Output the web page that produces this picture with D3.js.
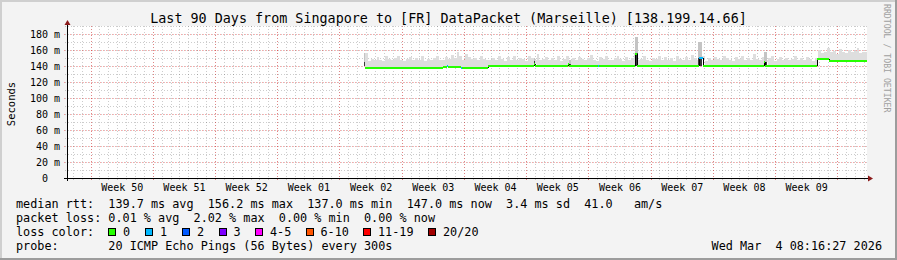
<!DOCTYPE html>
<html>
<head>
<meta charset="utf-8">
<script src="https://cdn.jsdelivr.net/npm/d3@7"></script>
<style>
  html, body { margin: 0; padding: 0; background: #fff; }
  svg { display: block; font-family: "DejaVu Sans Mono", monospace; }
  text { white-space: pre; }
</style>
</head>
<body>
<script>
// time range of the graph (last 90 days)
const startTime = new Date("2025-12-04T08:16:27Z");
const endTime = new Date("2026-03-04T08:16:27Z");

// y axis ticks (ms)
const yTicks = [0, 20, 40, 60, 80, 100, 120, 140, 160, 180];

// median rtt, as steps: start time, value in ms, lost pings
const medianStart = [
  "2026-01-06T20:00Z", "2026-01-15T15:00Z", "2026-01-16T01:00Z", "2026-01-16T04:00Z",
  "2026-01-17T16:00Z", "2026-01-17T19:00Z", "2026-01-20T17:00Z", "2026-01-25T20:00Z",
  "2026-01-25T23:00Z", "2026-01-29T16:00Z", "2026-01-29T19:00Z", "2026-02-02T03:00Z",
  "2026-02-02T06:00Z", "2026-02-06T07:00Z", "2026-02-06T10:00Z", "2026-02-13T10:00Z",
  "2026-02-13T21:00Z", "2026-02-20T19:00Z", "2026-02-20T22:00Z", "2026-02-26T17:00Z",
  "2026-02-28T01:00Z", "2026-03-04T08:16Z"
];
const medianValue = [137.2, 139.2, 139.5, 139.2, 137.0, 138.0, 139.5, 143.0, 139.5, 142.0,
  139.5, 139.5, 139.5, 155.5, 139.5, 149.5, 139.5, 145.0, 139.5, 148.4, 146.8];
const medianLoss = [0, 0, 1, 0, 1, 0, 0, 0, 0, 0, 0, 1, 0, 0, 0, 1, 0, 0, 0, 0, 0];

// smoke: highest ping per 8 hour bucket, from the first bucket on
const smokeFirst = "2026-01-06T20:00Z";
const smokeMax = [
  156, 146, 149, 147, 151, 148, 146, 152, 149, 147, 150, 153, 148, 146, 149, 151, 147, 150,
  148, 152, 146, 149, 147, 150, 153, 148, 147,
  151, 149, 154, 150, 157, 152, 148, 155, 151, 149, 150, 148, 152, 149, 147,
  148, 150, 147, 152, 149, 146, 151, 148, 153, 147, 150, 149, 146, 152, 150, 148, 155, 147,
  149, 151, 147, 150, 148, 153, 146, 149, 152, 148, 150, 147, 151, 149, 147, 150, 154, 148,
  146, 151, 149, 152, 148, 147, 150, 153, 149, 146, 151, 148, 150, 156, 147, 149, 152, 148,
  146, 150, 149, 153, 147, 151, 148, 150, 146, 152, 149, 147, 151, 148, 154, 150, 147, 149,
  152, 146, 150, 148, 151, 149, 147, 153, 150, 148, 146, 151, 149, 152, 147, 150, 148, 155,
  149, 147, 151, 148, 150, 152, 146, 149, 151, 148, 150, 147, 149, 152, 148, 150, 147, 151,
  149, 146, 150,
  160, 156, 158, 162, 157, 159, 155, 161, 158, 156, 160, 157, 159, 162, 156, 158, 157
];

// spikes of dense smoke: start, hours wide, dark top, light top (ms)
const spikeTimes = ["2026-01-06T19:00Z", "2026-01-25T20:00Z", "2026-01-29T21:00Z",
  "2026-02-06T05:00Z", "2026-02-13T08:00Z", "2026-02-20T19:00Z"];
const spikeHours = [3, 3, 3, 8, 11, 6];
const spikeDark = [145, 146, 143, 156, 149.5, 145];
const spikeTop = [156, 150, 148, 176, 170, 158];

// legend
const lossLabels = ["0", "1", "2", "3", "4-5", "6-10", "11-19", "20/20"];
const lossColors = ["#26ff00", "#00b8ff", "#0059ff", "#7e00ff", "#ff00ff", "#ff5500", "#ff0000", "#a10000"];
const lossBoxX = [108, 145, 182, 218.5, 255, 305.5, 363, 428];

const W = 897, H = 260;
const pLeft = 67, pRight = 867, pTop = 26, pBottom = 178;

const x = d3.scaleUtc().domain([startTime, endTime]).range([pLeft, pRight]);
const y = d3.scaleLinear().domain([0, 190]).range([pBottom, pTop]);

const svg = d3.select("body").append("svg")
  .attr("width", W)
  .attr("height", H);

// background and 3d frame
svg.append("rect").attr("width", W).attr("height", H).attr("fill", "#f3f3f3");
svg.append("rect").attr("x", 0).attr("y", 0).attr("width", W).attr("height", 2).attr("fill", "#cfcfcf");
svg.append("rect").attr("x", 0).attr("y", 0).attr("width", 2).attr("height", H).attr("fill", "#cfcfcf");
svg.append("rect").attr("x", 0).attr("y", H - 2).attr("width", W).attr("height", 2).attr("fill", "#9c9c9c");
svg.append("rect").attr("x", W - 2).attr("y", 0).attr("width", 2).attr("height", H).attr("fill", "#9c9c9c");

// canvas
svg.append("rect")
  .attr("x", pLeft).attr("y", pTop)
  .attr("width", pRight - pLeft).attr("height", pBottom - pTop)
  .attr("fill", "#ffffff");

// grid
const grid = svg.append("g").attr("shape-rendering", "crispEdges");
const days = d3.utcDay.range(startTime, endTime);
const sundays = d3.utcSunday.range(startTime, endTime);
grid.selectAll(".vmin").data(days).enter().append("line")
  .attr("x1", d => Math.round(x(d)) + 0.5).attr("x2", d => Math.round(x(d)) + 0.5)
  .attr("y1", pTop).attr("y2", pBottom + 2)
  .attr("stroke", "rgba(0,0,0,0.2)").attr("stroke-dasharray", "1,2");
const yMinor = d3.range(10, 200, 10);
grid.selectAll(".hmin").data(yMinor).enter().append("line")
  .attr("x1", pLeft - 2).attr("x2", pRight)
  .attr("y1", d => Math.round(y(d)) + 0.5).attr("y2", d => Math.round(y(d)) + 0.5)
  .attr("stroke", "rgba(0,0,0,0.2)").attr("stroke-dasharray", "1,2");
grid.selectAll(".vmaj").data(sundays).enter().append("line")
  .attr("x1", d => Math.round(x(d)) + 0.5).attr("x2", d => Math.round(x(d)) + 0.5)
  .attr("y1", pTop).attr("y2", pBottom + 3)
  .attr("stroke", "rgba(255,0,0,0.35)").attr("stroke-dasharray", "1,2");
grid.selectAll(".hmaj").data(yTicks.filter(d => d > 0)).enter().append("line")
  .attr("x1", pLeft - 3).attr("x2", pRight)
  .attr("y1", d => Math.round(y(d)) + 0.5).attr("y2", d => Math.round(y(d)) + 0.5)
  .attr("stroke", "rgba(255,0,0,0.35)").attr("stroke-dasharray", "1,2");

// data
const plot = svg.append("g");
svg.append("clipPath").attr("id", "clip").append("rect")
  .attr("x", pLeft).attr("y", pTop).attr("width", pRight - pLeft).attr("height", pBottom - pTop);
plot.attr("clip-path", "url(#clip)").attr("shape-rendering", "crispEdges");

const segs = medianValue.map((v, i) => ({
  t0: new Date(medianStart[i]), t1: new Date(medianStart[i + 1]), v: v, loss: medianLoss[i]
}));
function medianAt(t) {
  let v = medianValue[0];
  segs.forEach(s => { if (s.t0 <= t) v = s.v; });
  return v;
}

const t0 = new Date(smokeFirst);
const smoke = smokeMax.map((m, i) => {
  const a = d3.utcHour.offset(t0, i * 8);
  return { a: a, b: d3.utcHour.offset(a, 8), hi: m, lo: medianAt(a) };
});
plot.selectAll(".smoke").data(smoke).enter().append("rect")
  .attr("x", d => Math.round(x(d.a)))
  .attr("width", d => Math.max(1, Math.round(x(d.b)) - Math.round(x(d.a))))
  .attr("y", d => Math.round(y(d.hi)))
  .attr("height", d => Math.max(0, Math.round(y(d.lo)) - Math.round(y(d.hi))))
  .attr("fill", "#dedede");

const spikes = spikeTimes.map((s, i) => {
  const a = new Date(s);
  return { a: a, b: d3.utcHour.offset(a, spikeHours[i]), dark: spikeDark[i], hi: spikeTop[i] };
});
plot.selectAll(".spikeLight").data(spikes).enter().append("rect")
  .attr("x", d => Math.round(x(d.a)))
  .attr("width", d => Math.max(1, Math.round(x(d.b)) - Math.round(x(d.a))))
  .attr("y", d => Math.round(y(d.hi)))
  .attr("height", d => Math.round(y(d.dark)) - Math.round(y(d.hi)))
  .attr("fill", "#c4c4c4");
plot.selectAll(".spikeDark").data(spikes).enter().append("rect")
  .attr("x", d => Math.round(x(d.a)))
  .attr("width", d => Math.max(1, Math.round(x(d.b)) - Math.round(x(d.a))))
  .attr("y", d => Math.round(y(d.dark)))
  .attr("height", d => Math.round(y(139.5)) - Math.round(y(d.dark)))
  .attr("fill", "#3a3a3a");

// median line, coloured by loss
plot.selectAll(".jump").data(segs.slice(1)).enter().append("line")
  .attr("x1", d => Math.round(x(d.t0)) + 0.5).attr("x2", d => Math.round(x(d.t0)) + 0.5)
  .attr("y1", (d, i) => y(segs[i].v)).attr("y2", d => y(d.v))
  .attr("stroke", "#000").attr("stroke-width", 1);
plot.selectAll(".median").data(segs).enter().append("rect")
  .attr("x", d => Math.round(x(d.t0)))
  .attr("width", d => Math.max(1, Math.round(x(d.t1)) - Math.round(x(d.t0))))
  .attr("y", d => Math.round(y(d.v)) - 1)
  .attr("height", 2)
  .attr("fill", d => lossColors[d.loss]);

// axes
const axes = svg.append("g").attr("shape-rendering", "crispEdges");
axes.append("line").attr("x1", pLeft + 0.5).attr("x2", pLeft + 0.5).attr("y1", pTop - 2).attr("y2", pBottom + 3)
  .attr("stroke", "#000");
axes.append("line").attr("x1", pLeft - 3).attr("x2", pRight + 2).attr("y1", pBottom + 0.5).attr("y2", pBottom + 0.5)
  .attr("stroke", "#000");
svg.append("path").attr("d", `M${pLeft - 2.5},${pTop - 1} L${pLeft + 3.5},${pTop - 1} L${pLeft + 0.5},${pTop - 6} Z`)
  .attr("fill", "#8b1a1a");
svg.append("path").attr("d", `M${pRight + 1},${pBottom - 2.5} L${pRight + 1},${pBottom + 3.5} L${pRight + 6},${pBottom + 0.5} Z`)
  .attr("fill", "#8b1a1a");

// y labels
const yAxis = d3.axisLeft(y).tickValues(yTicks).tickSize(0).tickPadding(0)
  .tickFormat(d => d === 0 ? "0" : d + " m");
const gy = svg.append("g").attr("transform", "translate(60,0)").call(yAxis);
gy.select(".domain").remove();
gy.selectAll("text").attr("font-family", "DejaVu Sans Mono").attr("font-size", "10px").attr("fill", "#000")
  .attr("dy", "0.35em")
  .attr("x", d => d === 0 ? -12 : 0);

// week labels
const weekMid = sundays.map(d => d3.utcHour.offset(d, 84)).filter(d => d < endTime);
const xAxis = d3.axisBottom(x).tickValues(weekMid).tickSize(0).tickPadding(0)
  .tickFormat(d3.utcFormat("Week %V"));
const gx = svg.append("g").attr("transform", "translate(0,184)").call(xAxis);
gx.select(".domain").remove();
gx.selectAll("text").attr("font-family", "DejaVu Sans Mono").attr("font-size", "10px").attr("fill", "#000")
  .attr("dy", "0.71em");

// title and side texts
svg.append("text").attr("x", W / 2).attr("y", 23).attr("text-anchor", "middle")
  .attr("font-size", "13.4px").attr("fill", "#000")
  .text("Last 90 Days from Singapore to [FR] DataPacket (Marseille) [138.199.14.66]");
svg.append("text").attr("transform", "translate(15,104) rotate(-90)").attr("text-anchor", "middle")
  .attr("font-size", "10.5px").attr("fill", "#000").text("Seconds");
svg.append("text").attr("transform", "translate(884,4) rotate(90)").attr("text-anchor", "start")
  .attr("font-size", "8.2px").attr("fill", "#a0a0a0").text("RRDTOOL / TOBI OETIKER");

// legend
const fs = "11.8px";
const legend = svg.append("g").attr("font-size", fs).attr("fill", "#000");
legend.append("text").attr("x", 16).attr("y", 207.5)
  .text("median rtt:  139.7 ms avg  156.2 ms max  137.0 ms min  147.0 ms now  3.4 ms sd  41.0   am/s");
legend.append("text").attr("x", 16).attr("y", 222)
  .text("packet loss: 0.01 % avg  2.02 % max  0.00 % min  0.00 % now");
legend.append("text").attr("x", 16).attr("y", 236).text("loss color:");
legend.selectAll(".box").data(lossColors).enter().append("rect")
  .attr("x", (d, i) => lossBoxX[i] + 0.5).attr("y", 228.5)
  .attr("width", 7).attr("height", 7)
  .attr("fill", d => d).attr("stroke", "#000").attr("shape-rendering", "crispEdges");
legend.selectAll(".lbl").data(lossLabels).enter().append("text")
  .attr("x", (d, i) => lossBoxX[i] + 15).attr("y", 236).text(d => d);
legend.append("text").attr("x", 16).attr("y", 250)
  .text("probe:       20 ICMP Echo Pings (56 Bytes) every 300s");
legend.append("text").attr("x", 882).attr("y", 250).attr("text-anchor", "end")
  .text("Wed Mar  4 08:16:27 2026");
</script>
</body>
</html>
